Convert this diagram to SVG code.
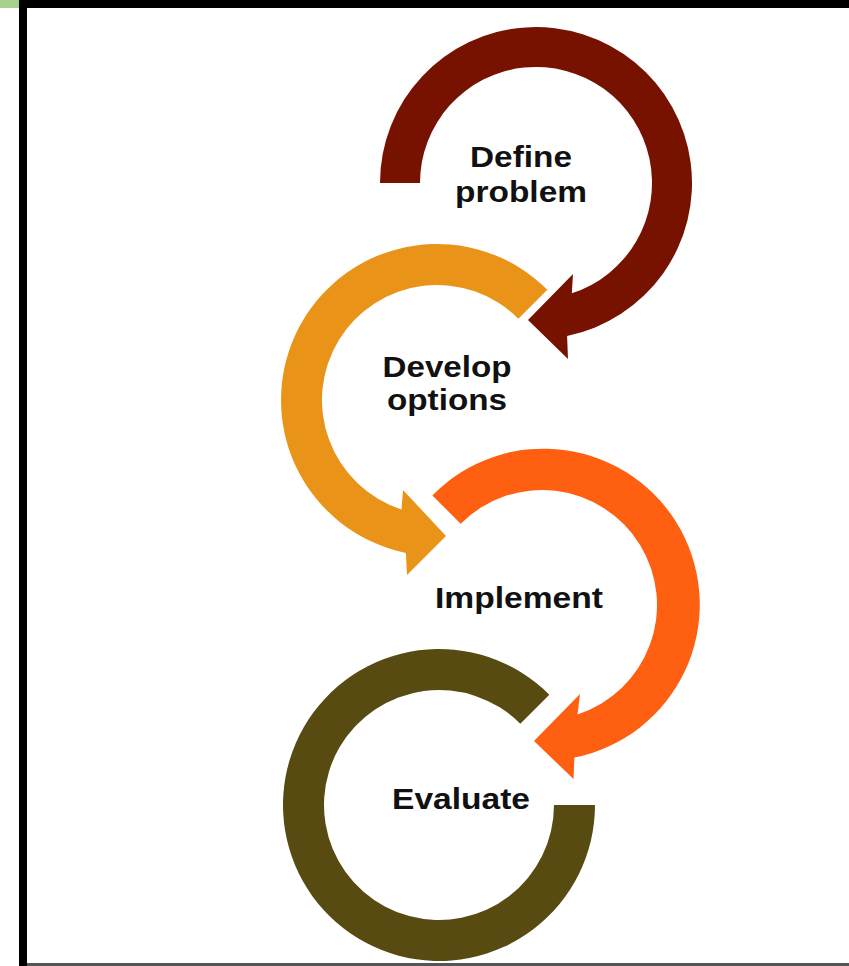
<svg xmlns="http://www.w3.org/2000/svg" width="849" height="966" viewBox="0 0 849 966">
  <style>
    .lbl { font-family: "Liberation Sans", Arial, sans-serif; font-weight: bold; font-size: 30px; fill: #111111; text-anchor: middle; }
    .frame { fill: #000000; }
  </style>
  <rect x="0" y="0" width="849" height="966" fill="#ffffff"/>
  <g id="frame">
    <rect x="0" y="0" width="19" height="8" fill="#a8d08d"/>
    <rect class="frame" x="19" y="0" width="830" height="8"/>
    <rect class="frame" x="19" y="0" width="8" height="966"/>
    <rect x="27" y="963" width="822" height="3" fill="#555555"/>
  </g>
  <g id="step-define">
    <path fill="#781200" d="M 380,183 A 156 156 0 1 1 567.1,335.9 L 568,359 L 528,320 L 573,274 L 571.8,293.3 A 116 116 0 1 0 420,183 Z"/>
    <text class="lbl" x="521" y="167" textLength="102" lengthAdjust="spacingAndGlyphs">Define</text>
    <text class="lbl" x="521" y="202" textLength="132" lengthAdjust="spacingAndGlyphs">problem</text>
  </g>
  <g id="step-develop">
    <path fill="#e99418" d="M 547.3,289.7 A 156 156 0 1 0 405.9,552.9 L 407,575 L 446,536 L 403,490 L 401.5,509.4 A 115 115 0 1 1 518.3,318.7 Z"/>
    <text class="lbl" x="447" y="377" textLength="129" lengthAdjust="spacingAndGlyphs">Develop</text>
    <text class="lbl" x="447" y="410" textLength="120" lengthAdjust="spacingAndGlyphs">options</text>
  </g>
  <g id="step-implement">
    <path fill="#fe5f10" d="M 432.4,495.4 A 156 156 0 1 1 574.4,757.6 L 573.5,779 L 534,741 L 580,694 L 577.5,714.4 A 115 115 0 1 0 460.7,523.7 Z"/>
    <text class="lbl" x="519" y="608" textLength="168" lengthAdjust="spacingAndGlyphs">Implement</text>
  </g>
  <g id="step-evaluate">
    <path fill="#584b12" d="M 549.3,694.7 A 156 156 0 1 0 595,805 L 554,805 A 115 115 0 1 1 520.3,723.7 Z"/>
    <text class="lbl" x="461" y="809" textLength="138" lengthAdjust="spacingAndGlyphs">Evaluate</text>
  </g>
  <g id="connectors"></g>
</svg>
